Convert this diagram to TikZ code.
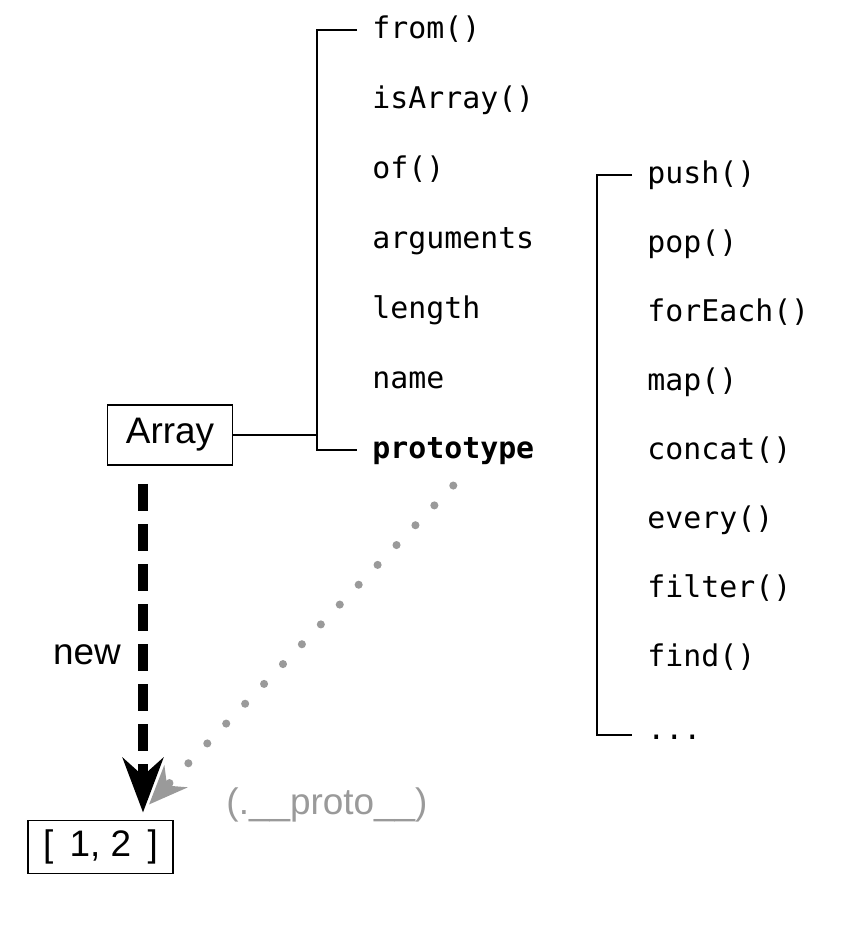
\documentclass[tikz,border=0pt]{standalone}
\usepackage{fontspec}
\setmainfont{Liberation Sans}
\setmonofont{DejaVu Sans Mono}
\usetikzlibrary{arrows.meta, positioning}
\definecolor{protogray}{HTML}{9A9A9A}

\begin{document}
\begin{tikzpicture}[
    every node/.style={font=\fontsize{21}{24}\selectfont},
    box/.style={draw, line width=1.1pt, minimum height=1.2cm, align=center},
    mem/.style={anchor=west, inner xsep=0.3cm, inner ysep=0pt, text height=2ex, text depth=0.2ex, font=\ttfamily\fontsize{17}{20}\selectfont},
    brk/.style={line width=1.1pt},
    arr/.style={line width=5.7pt, dash pattern=on 15.4pt off 7.4pt, -{Stealth[length=31pt, width=23pt]}},
    dots/.style={protogray, line width=4.6pt, line cap=round, dash pattern=on 0pt off 15.6pt, -{Stealth[length=22pt, width=18pt]}}
]
    \useasboundingbox (0,0) rectangle (16.84,18.6);
    % constructor and instance
    \node[box, minimum width=2.5cm] (arr) at (3.4,9.9) {Array};
    \node[box, minimum width=2.9cm, minimum height=1.06cm] (lst) at (2.01,1.66) {[~\,1,~2~\,]};
    % static members of Array
    \node[mem] (sFrom) at (7.14,18.0) {from()};
    \node[mem] (sIsArray) at (7.14,16.6) {isArray()};
    \node[mem] (sOf) at (7.14,15.2) {of()};
    \node[mem] (sArgs) at (7.14,13.8) {arguments};
    \node[mem] (sLength) at (7.14,12.4) {length};
    \node[mem] (sName) at (7.14,11.0) {name};
    \node[mem, font=\ttfamily\bfseries\fontsize{17}{20}\selectfont] (sProto) at (7.14,9.6) {prototype};
    % members of Array.prototype
    \node[mem] (pPush) at (12.64,15.1) {push()};
    \node[mem] (pPop) at (12.64,13.72) {pop()};
    \node[mem] (pForEach) at (12.64,12.34) {forEach()};
    \node[mem] (pMap) at (12.64,10.96) {map()};
    \node[mem] (pConcat) at (12.64,9.58) {concat()};
    \node[mem] (pEvery) at (12.64,8.2) {every()};
    \node[mem] (pFilter) at (12.64,6.82) {filter()};
    \node[mem] (pFind) at (12.64,5.44) {find()};
    \node[mem, text height=1.2ex] (pMore) at (12.64,3.9) {...};

    % brackets
    \coordinate (sj) at (6.34,9.9);
    \draw[brk] (sFrom.west) -| (sj) |- (sProto.west);
    \draw[brk] (arr.east) -- (sj);
    \draw[brk] (pPush.west) -- ++(-0.7,0) |- (pMore.west);

    % new -> instance, and its __proto__ link
    \draw[arr] ([xshift=-0.54cm, yshift=-0.36cm]arr.south) -- ([xshift=0.85cm, yshift=0.14cm]lst.north);
    \node (nlbl) at (1.74,5.5) {new};
    \coordinate (ptip) at ([xshift=0.97cm, yshift=0.3cm]lst.north);
    \draw[dots] ([yshift=-0.5cm]sProto.south) -- (ptip);
    \node[text=protogray] (plbl) at (6.54,2.5) {(.\_\_proto\_\_)};
\end{tikzpicture}
\end{document}
